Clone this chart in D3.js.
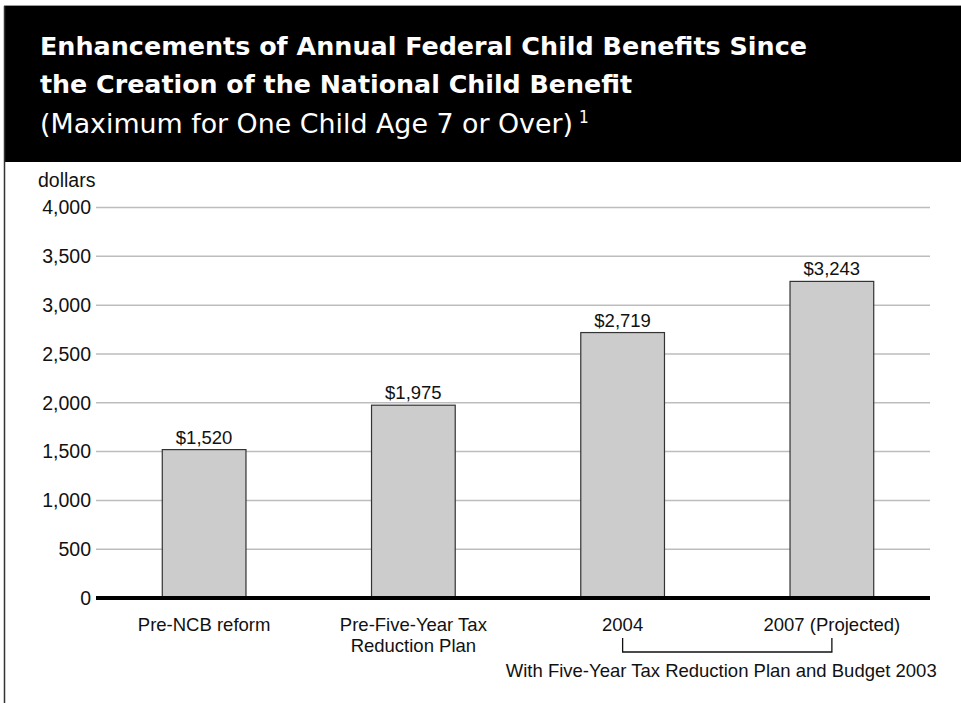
<!DOCTYPE html>
<html>
<head>
<meta charset="utf-8">
<script src="https://cdn.jsdelivr.net/npm/d3@7"></script>
<style>
  html, body { margin: 0; padding: 0; background: #fff; }
  svg { display: block; }
</style>
</head>
<body>
<svg id="chart" width="961" height="703"></svg>
<script>
// ---- data ----
const categories = [
  ["Pre-NCB reform"],
  ["Pre-Five-Year Tax", "Reduction Plan"],
  ["2004"],
  ["2007 (Projected)"]
];
const values = [1520, 1975, 2719, 3243];
const valueLabels = ["$1,520", "$1,975", "$2,719", "$3,243"];
const yTicks = [0, 500, 1000, 1500, 2000, 2500, 3000, 3500, 4000];
const titleLines = [
  "Enhancements of Annual Federal Child Benefits Since",
  "the Creation of the National Child Benefit"
];
const subtitle = "(Maximum for One Child Age 7 or Over)";
const yUnit = "dollars";
const bracketLabel = "With Five-Year Tax Reduction Plan and Budget 2003";

const svg = d3.select("#chart");
const FONT = "'Liberation Sans', Arial, Helvetica, sans-serif";
const COND = "'DejaVu Sans Condensed', 'Liberation Sans', Arial, sans-serif";

// ---- frame ----
svg.append("rect").attr("x", 4).attr("y", 5).attr("width", 957).attr("height", 1.5).attr("fill", "#999");
svg.append("rect").attr("x", 4).attr("y", 6).attr("width", 957).attr("height", 156).attr("fill", "#000");
svg.append("line").attr("x1", 4.5).attr("x2", 4.5).attr("y1", 6).attr("y2", 703)
  .attr("stroke", "#333").attr("stroke-width", 1.5);

// ---- titles ----
const tTargets = [767, 592];
titleLines.forEach((t, i) => {
  svg.append("text")
    .attr("x", 40).attr("y", 55 + i * 37.5)
    .attr("fill", "#fff")
    .attr("font-family", COND)
    .attr("font-weight", "bold")
    .attr("font-size", 25.5)
    .attr("textLength", tTargets[i])
    .attr("lengthAdjust", "spacingAndGlyphs")
    .text(t);
});
svg.append("text")
  .attr("x", 40).attr("y", 133)
  .attr("fill", "#fff")
  .attr("font-family", COND)
  .attr("font-size", 26)
  .attr("textLength", 533)
  .attr("lengthAdjust", "spacingAndGlyphs")
  .text(subtitle);
svg.append("text")
  .attr("x", 579).attr("y", 123)
  .attr("fill", "#fff")
  .attr("font-family", COND)
  .attr("font-size", 17)
  .text("1");

// ---- scales ----
const y = d3.scaleLinear().domain([0, 4000]).range([598, 207.5]);
const x = d3.scaleBand()
  .domain(d3.range(categories.length))
  .range([99.5, 936.5])
  .paddingInner(0.6)
  .paddingOuter(0.3);

// gridlines
svg.append("g").selectAll("line")
  .data(yTicks.filter(d => d > 0))
  .join("line")
  .attr("x1", 96).attr("x2", 930)
  .attr("y1", d => y(d)).attr("y2", d => y(d))
  .attr("stroke", "#bdbdbd").attr("stroke-width", 1.5);

// y axis labels
const yAxis = d3.axisLeft(y).tickValues(yTicks).tickSize(0).tickPadding(0)
  .tickFormat(d3.format(","));
const gy = svg.append("g").attr("transform", "translate(91,0)").call(yAxis);
gy.select(".domain").remove();
gy.selectAll("text")
  .attr("font-family", FONT).attr("font-size", 19.5).attr("fill", "#111");

svg.append("text")
  .attr("x", 38).attr("y", 187)
  .attr("font-family", FONT).attr("font-size", 19.5).attr("fill", "#111")
  .text(yUnit);

// bars
svg.append("g").selectAll("rect")
  .data(values)
  .join("rect")
  .attr("x", (d, i) => x(i))
  .attr("width", x.bandwidth())
  .attr("y", d => y(d))
  .attr("height", d => y(0) - y(d))
  .attr("fill", "#cccccc")
  .attr("stroke", "#333")
  .attr("stroke-width", 1.2);

// value labels
svg.append("g").selectAll("text")
  .data(values)
  .join("text")
  .attr("x", (d, i) => x(i) + x.bandwidth() / 2)
  .attr("y", d => y(d) - 6)
  .attr("text-anchor", "middle")
  .attr("font-family", FONT).attr("font-size", 18.5).attr("fill", "#111")
  .text((d, i) => valueLabels[i]);

// zero axis line
svg.append("line")
  .attr("x1", 96).attr("x2", 930)
  .attr("y1", y(0)).attr("y2", y(0))
  .attr("stroke", "#000").attr("stroke-width", 4);

// category labels
const cg = svg.append("g").selectAll("text")
  .data(categories)
  .join("text")
  .attr("x", (d, i) => x(i) + x.bandwidth() / 2)
  .attr("y", 631)
  .attr("text-anchor", "middle")
  .attr("font-family", FONT).attr("font-size", 18.5).attr("fill", "#111");
cg.selectAll("tspan")
  .data(d => d)
  .join("tspan")
  .attr("x", function() { return d3.select(this.parentNode).attr("x"); })
  .attr("dy", (d, i) => i === 0 ? 0 : 21)
  .text(d => d);

// bracket
const bx1 = x(2) + x.bandwidth() / 2;
const bx2 = x(3) + x.bandwidth() / 2;
svg.append("path")
  .attr("d", `M${bx1},638V652H${bx2}V638`)
  .attr("fill", "none").attr("stroke", "#111").attr("stroke-width", 1.3);
svg.append("text")
  .attr("x", (bx1 + bx2) / 2 - 6).attr("y", 677)
  .attr("text-anchor", "middle")
  .attr("font-family", FONT).attr("font-size", 18.5).attr("fill", "#111")
  .text(bracketLabel);
</script>
</body>
</html>
